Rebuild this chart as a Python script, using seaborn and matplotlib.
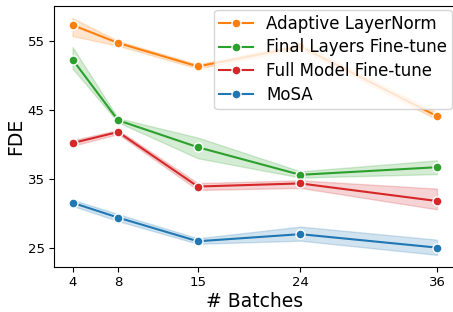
import numpy as np
import pandas as pd
import seaborn as sns
import matplotlib.pyplot as plt

batches = [4, 8, 15, 24, 36]
methods = ['Adaptive LayerNorm', 'Final Layers Fine-tune', 'Full Model Fine-tune', 'MoSA']

# FDE per method: centre line plus lower / upper edge of the shaded band
adaptive_mid = [57.3, 54.7, 51.3, 54.2, 44.1]
adaptive_low = [55.7, 54.3, 51.0, 53.8, 43.6]
adaptive_high = [58.3, 55.0, 51.6, 54.6, 44.6]

final_mid = [52.3, 43.5, 39.6, 35.6, 36.7]
final_low = [51.0, 43.2, 38.0, 35.2, 35.7]
final_high = [54.1, 43.8, 41.0, 36.1, 37.7]

full_mid = [40.2, 41.8, 33.9, 34.35, 31.8]
full_low = [39.8, 41.5, 33.4, 33.7, 30.6]
full_high = [40.6, 42.1, 34.4, 34.8, 33.6]

mosa_mid = [31.55, 29.4, 25.97, 27.0, 25.05]
mosa_low = [31.1, 28.9, 25.6, 26.05, 24.0]
mosa_high = [32.0, 29.9, 26.4, 28.1, 26.2]

series = {
    'Adaptive LayerNorm': (adaptive_low, adaptive_mid, adaptive_high),
    'Final Layers Fine-tune': (final_low, final_mid, final_high),
    'Full Model Fine-tune': (full_low, full_mid, full_high),
    'MoSA': (mosa_low, mosa_mid, mosa_high),
}

rows = []
for name, vals in series.items():
    for arr in vals:
        for b, v in zip(batches, arr):
            rows.append({'# Batches': b, 'FDE': v, 'Method': name})
df = pd.DataFrame(rows)

colors = {
    'Adaptive LayerNorm': '#ff7f0e',
    'Final Layers Fine-tune': '#2ca02c',
    'Full Model Fine-tune': '#d62728',
    'MoSA': '#1f77b4',
}

fig = plt.figure(figsize=(4.53, 3.12), dpi=100)
ax = fig.add_axes([0.1199, 0.1452, 0.885, 0.8346])

sns.lineplot(data=df, x='# Batches', y='FDE', hue='Method', hue_order=methods,
             palette=colors, estimator='median', errorbar=('pi', 100),
             marker='o', markersize=6.5, markeredgecolor='white',
             markeredgewidth=1, linewidth=1.5, ax=ax)

ax.set_xticks(batches)
ax.set_yticks([25, 35, 45, 55])
ax.tick_params(labelsize=9.5)
ax.set_xlabel('# Batches', fontsize=13.5, labelpad=2)
ax.set_ylabel('FDE', fontsize=13.5, labelpad=2)
ax.legend(loc='upper right', fontsize=12, title=None, borderaxespad=0.2,
          labelspacing=0.35, borderpad=0.3)

fig.savefig('out.png', dpi=100)
